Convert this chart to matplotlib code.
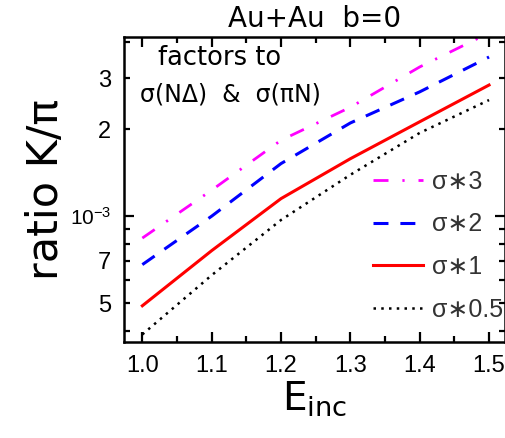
import numpy as np
import matplotlib
matplotlib.use("Agg")
import matplotlib.pyplot as plt
from matplotlib.ticker import FixedLocator, FixedFormatter

# data (ratio K/pi, in units of 1)
e_inc = [1.0, 1.1, 1.2, 1.3, 1.4, 1.5]
k_pi_x3 = [0.84e-3, 1.23e-3, 1.83e-3, 2.38e-3, 3.28e-3, 4.3e-3]
k_pi_x2 = [0.68e-3, 1.00e-3, 1.52e-3, 2.10e-3, 2.69e-3, 3.55e-3]
k_pi_x1 = [0.49e-3, 0.76e-3, 1.15e-3, 1.58e-3, 2.12e-3, 2.84e-3]
k_pi_x05 = [0.39e-3, 0.625e-3, 0.97e-3, 1.39e-3, 1.94e-3, 2.52e-3]
labels = ["σ∗3", "σ∗2", "σ∗1", "σ∗0.5"]

yticks_minor = [4e-4, 5e-4, 6e-4, 7e-4, 8e-4, 9e-4, 2e-3, 3e-3, 4e-3]
yticks_minor_lab = ["", "5", "", "7", "", "", "2", "3", ""]

plt.rcParams["font.family"] = ["Liberation Sans", "DejaVu Sans"]

fig = plt.figure(figsize=(5.06, 4.38), dpi=100)
ax = fig.add_axes([0.245, 0.219, 0.753, 0.697])

ax.plot(e_inc, k_pi_x3, color="magenta", lw=2.0, dash_capstyle="butt",
        linestyle=(0, (5.4, 5.0, 0.8, 5.0)), label=labels[0])
ax.plot(e_inc, k_pi_x2, color="blue", lw=2.2, dash_capstyle="butt",
        linestyle=(0, (4.9, 3.9)), label=labels[1])
ax.plot(e_inc, k_pi_x1, color="red", lw=2.2, label=labels[2])
ax.plot(e_inc, k_pi_x05, color="black", lw=1.8, dash_capstyle="butt",
        linestyle=(0, (1, 2.1)), label=labels[3])

ax.set_yscale("log")
ax.set_xlim(0.9735, 1.523)
ax.set_ylim(3.67e-4, 4.17e-3)

ax.xaxis.set_major_locator(FixedLocator([1.0, 1.1, 1.2, 1.3, 1.4, 1.5]))
ax.xaxis.set_minor_locator(FixedLocator([1.05, 1.15, 1.25, 1.35, 1.45]))
ax.set_xticklabels(["1.0", "1.1", "1.2", "1.3", "1.4", "1.5"])

ax.yaxis.set_major_locator(FixedLocator([1e-3]))
ax.yaxis.set_major_formatter(FixedFormatter([r"$\mathregular{10^{-3}}$"]))
ax.yaxis.set_minor_locator(FixedLocator(yticks_minor))
ax.yaxis.set_minor_formatter(FixedFormatter(yticks_minor_lab))

ax.tick_params(which="both", direction="in", top=True, right=True, width=1.6)
ax.tick_params(which="major", length=7.5, labelsize=17, pad=9)
ax.tick_params(which="minor", length=4.5, labelsize=17, pad=9)
ax.tick_params(axis="y", which="major", labelsize=15)
for s in ax.spines.values():
    s.set_linewidth(1.8)

ax.set_title("Au+Au  b=0", fontsize=20, family="DejaVu Sans", pad=7)
ax.set_ylabel("ratio K/π", fontsize=31, family="DejaVu Sans", labelpad=2)
ax.set_xlabel(r"$\mathregular{E_{inc}}$", fontsize=28, family="DejaVu Sans", labelpad=2)

ax.text(0.09, 0.931, "factors to", transform=ax.transAxes, fontsize=18.5,
        family="DejaVu Sans", va="center")
ax.text(0.043, 0.81, "σ(NΔ)  &  σ(πN)", transform=ax.transAxes, fontsize=17,
        family="DejaVu Sans", va="center")

ax.legend(loc="lower left", frameon=False, fontsize=18, handlelength=2.0,
          handletextpad=0.36, labelspacing=0.75, borderaxespad=0, borderpad=0,
          bbox_to_anchor=(0.654, 0.066), labelcolor="#333333")

fig.savefig("out.png", dpi=100)
